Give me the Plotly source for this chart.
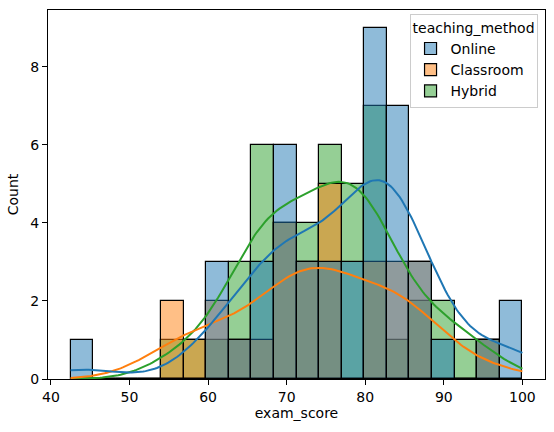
import numpy as np
import plotly.graph_objects as go

# histogram bins: 20 bins from 42.5 to 100
bin_start = 42.5
bin_end = 100.0
n_bins = 20

methods = ["Online", "Classroom", "Hybrid"]
online_counts = [1, 0, 0, 0, 0, 0, 3, 1, 3, 6, 3, 3, 3, 9, 7, 3, 1, 0, 1, 2]
classroom_counts = [0, 0, 0, 0, 2, 1, 2, 1, 1, 4, 3, 5, 0, 3, 3, 3, 0, 0, 1, 0]
hybrid_counts = [0, 0, 0, 0, 1, 1, 1, 3, 6, 4, 4, 6, 5, 7, 1, 2, 2, 1, 1, 0]

line_colors = ["#1f77b4", "#ff7f0e", "#2ca02c"]
fill_colors = ["rgba(31,119,180,0.5)", "rgba(255,127,14,0.5)", "rgba(44,160,44,0.5)"]

x_ticks = [40, 50, 60, 70, 80, 90, 100]
y_ticks = [0, 2, 4, 6, 8]

edges = np.linspace(bin_start, bin_end, n_bins + 1)
width = edges[1] - edges[0]
centers = (edges[:-1] + edges[1:]) / 2
counts = {"Online": online_counts, "Classroom": classroom_counts, "Hybrid": hybrid_counts}


def kde_curve(cnts, grid):
    # gaussian kde (scott bandwidth) on the binned values, scaled to counts
    vals = np.repeat(centers, cnts)
    n = len(vals)
    bw = np.std(vals, ddof=1) * n ** (-1 / 5)
    z = (grid[:, None] - vals[None, :]) / bw
    dens = np.exp(-0.5 * z ** 2).sum(axis=1) / (n * bw * np.sqrt(2 * np.pi))
    return dens * n * width


fig = go.Figure()

# seaborn draws the hues in reverse order, Online ends up on top
for i in [2, 1, 0]:
    m = methods[i]
    fig.add_trace(go.Bar(
        x=centers, y=counts[m], width=width,
        marker=dict(color=fill_colors[i], line=dict(color="black", width=1.2)),
        name=m, legendgroup=m,
    ))

grid = np.linspace(bin_start, bin_end, 200)
for i in [2, 1, 0]:
    m = methods[i]
    fig.add_trace(go.Scatter(
        x=grid, y=kde_curve(counts[m], grid), mode="lines",
        line=dict(color=line_colors[i], width=2),
        showlegend=False, legendgroup=m, hoverinfo="skip",
    ))

axis_style = dict(
    showline=True, mirror=True, linecolor="black", linewidth=1.1,
    ticks="outside", ticklen=5, tickwidth=1.1, tickcolor="black",
    showgrid=False, zeroline=False,
    tickfont=dict(size=14, color="black"),
)

fig.update_layout(
    width=554, height=432,
    margin=dict(l=48, r=9, t=10, b=53),
    paper_bgcolor="white", plot_bgcolor="white",
    font=dict(family="DejaVu Sans", size=14, color="black"),
    barmode="overlay", bargap=0,
    legend=dict(
        title=dict(text="teaching_method", font=dict(size=14)),
        x=0.985, y=0.99, xanchor="right", yanchor="top",
        bgcolor="rgba(255,255,255,0.8)", bordercolor="#cccccc", borderwidth=1,
        traceorder="reversed", font=dict(size=14), tracegroupgap=0,
    ),
    xaxis=dict(axis_style, range=[bin_start - width, bin_end + width],
               tickvals=x_ticks, title=dict(text="exam_score", font=dict(size=14), standoff=4)),
    yaxis=dict(axis_style, range=[0, max(online_counts) * 1.05],
               tickvals=y_ticks, title=dict(text="Count", font=dict(size=14), standoff=8)),
)

fig.write_html("out.html", config={"displayModeBar": False},
               post_script="document.body.style.margin='0';")
